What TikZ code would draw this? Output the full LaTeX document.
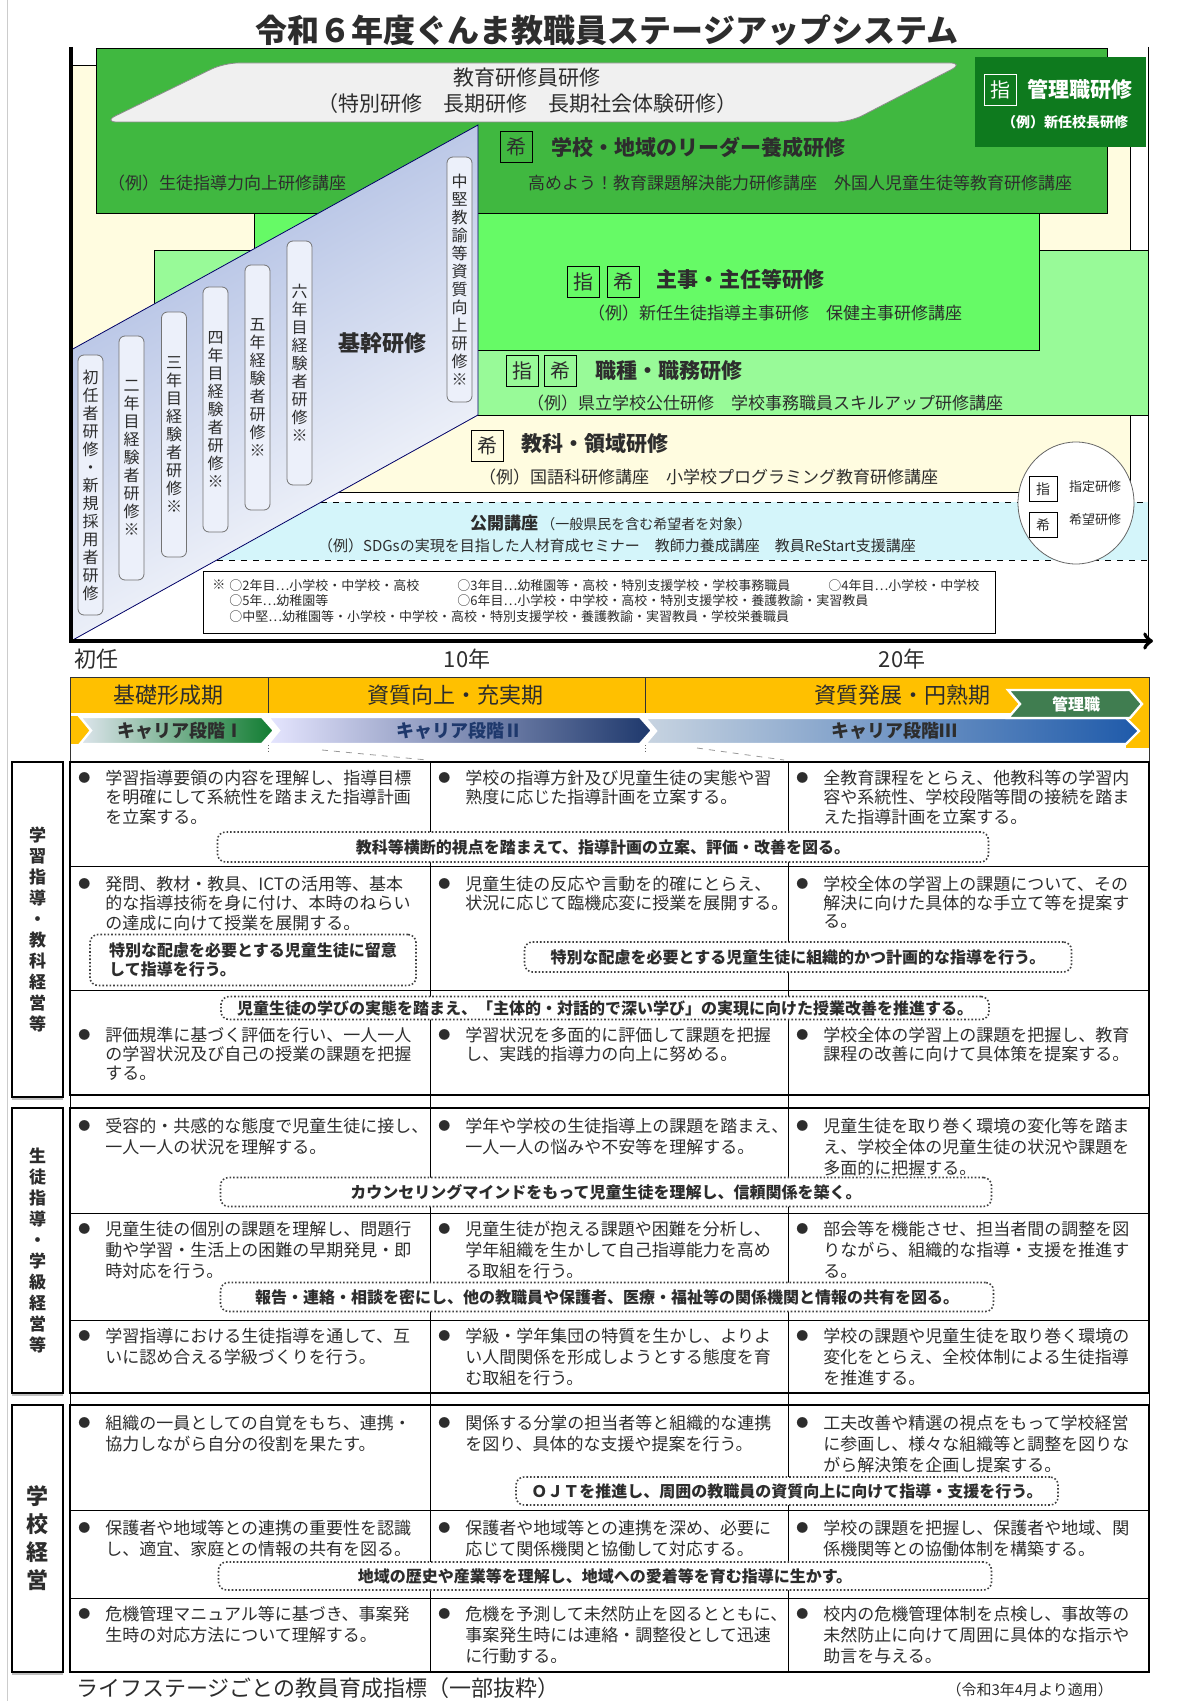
\documentclass[tikz,border=0pt]{standalone}
\usepackage{fontspec}
\setmainfont{Noto Sans CJK JP}
\usetikzlibrary{shadows}

\definecolor{txt}{RGB}{45,45,45}
\definecolor{cream}{RGB}{255,252,224}
\definecolor{dgreen}{RGB}{64,184,64}
\definecolor{kgreen}{RGB}{14,122,30}
\definecolor{bgreen}{RGB}{102,250,102}
\definecolor{lgreen}{RGB}{152,250,152}
\definecolor{cyanband}{RGB}{212,245,250}
\definecolor{pillgray}{RGB}{240,240,240}
\definecolor{kanblue}{RGB}{168,184,224}
\definecolor{tateblue}{RGB}{236,240,250}
\definecolor{orangeband}{RGB}{255,192,0}
\definecolor{navy}{RGB}{30,56,108}
\definecolor{stagegreen}{RGB}{16,124,48}
\definecolor{stageblue}{RGB}{110,150,235}
\definecolor{stagegray}{RGB}{200,212,225}
\definecolor{stageblue3}{RGB}{30,90,170}
\definecolor{kanrigreen}{RGB}{64,125,80}

\newcommand{\tate}[1]{\vbox{\lineskiplimit=-20pt\lineskip=0pt\tateaux#1\relax}}
\def\tateaux#1{\ifx\relax#1\else\hbox to 1em{\hss#1\hss}\expandafter\tateaux\fi}
\newcommand{\bul}[1]{\begin{tabular}[t]{@{}l@{\hspace{7.5pt}}l@{}}\raisebox{0.9pt}{\fontsize{6}{6}\selectfont ●}&\begin{tabular}[t]{@{}l@{}}#1\end{tabular}\end{tabular}}

\tikzstyle{kbox} = [draw, inner sep=0pt, minimum width=16pt, minimum height=15.5pt, font=\fontsize{10}{10}\selectfont, text=txt]
\tikzstyle{heading} = [anchor=west, font=\bfseries\fontsize{10.5}{10.5}\selectfont, text=txt]
\tikzstyle{rei} = [anchor=west, font=\fontsize{8.5}{8.5}\selectfont, text=txt]
\tikzstyle{tatebox} = [draw=black!55, fill=tateblue, rounded corners=3pt, minimum width=12.5pt, inner sep=0pt, font=\fontsize{8}{9}\selectfont, text=txt]
\tikzstyle{note} = [anchor=north west, inner sep=0pt, align=left, font=\fontsize{6.5}{7.75}\selectfont, text=txt]
\tikzstyle{period} = [font=\fontsize{11}{11}\selectfont, text=txt]
\tikzstyle{chevron} = [draw=white, line width=1.2pt]
\tikzstyle{stage} = [font=\bfseries\fontsize{9}{9}\selectfont, text=txt]
\tikzstyle{section} = [draw, line width=0.9pt, fill=white, inner sep=0pt, minimum width=25.5pt, font=\bfseries\fontsize{8.5}{10.5}\selectfont, text=txt, drop shadow={shadow xshift=0pt, shadow yshift=-1.5pt, opacity=0.5}]
\tikzstyle{cell} = [anchor=base west, inner sep=0pt, text=txt, font=\fontsize{8.5}{9}\selectfont]
\tikzstyle{cellw} = [cell, font=\fontsize{8.5}{10.5}\selectfont]
\tikzstyle{dotbox} = [draw=black!75, densely dotted, line width=0.8pt, rounded corners=4pt, fill=white, inner sep=0pt, font=\bfseries\fontsize{8}{9.5}\selectfont, text=txt]

\begin{document}
\begin{tikzpicture}[x=0.5pt, y=-0.5pt]
      \useasboundingbox (0,0) rectangle (1182,1701);
      \draw[black!20] (7,0) -- (7,1701);
      \node[font=\bfseries\fontsize{16}{16}\selectfont, text=txt] (title) at (607,30) {令和６年度ぐんま教職員ステージアップシステム};

      % training map
      \filldraw[fill=cream, draw=black, thin] (71,65) rectangle (1130,641);
      \filldraw[fill=lgreen, thin] (154,250) rectangle (1148,415);
      \filldraw[fill=bgreen, thin] (254,213) rectangle (1039,350);
      \filldraw[fill=dgreen, thin] (96,48) rectangle (1107,213);
      \fill[kgreen] (975,57) rectangle (1146,147);
      \filldraw[fill=pillgray, draw=black!45, rounded corners=7pt] (224,63) -- (964,63) -- (850,122) -- (103,122) -- cycle;
      \fill[white] (339,492) -- (1148,492) -- (1148,641) -- (71,641) -- cycle;
      \fill[cyanband] (321,502) -- (1148,502) -- (1148,560) -- (217,560) -- cycle;
      \draw[dashed] (321,502) -- (1148,502);
      \draw[dashed] (217,560) -- (1148,560);
      \draw (339,492) -- (1130,492);
      \draw[thin] (1148,47) -- (1148,641);
      \draw[draw=black!60!blue, top color=kanblue, bottom color=white, shading angle=29] (71,350) -- (478,125) -- (478,415) -- (71,641) -- cycle;

      \node[align=center, font=\fontsize{10.5}{13}\selectfont, text=txt] (kenshuin) at (527,91) {教育研修員研修\\（特別研修　長期研修　長期社会体験研修）};
      \node[rei] (seito) at (101,183) {（例）生徒指導力向上研修講座};
      \node[kbox] (kibo1) at (516,147) {希};
      \node[heading] (leader) at (544,147) {学校・地域のリーダー養成研修};
      \node[rei] (takameyo) at (521,183) {高めよう！教育課題解決能力研修講座　外国人児童生徒等教育研修講座};

      \node[kbox, draw=white, text=white] (shitei1) at (1000,90) {指};
      \node[heading, text=white] (kanri) at (1020,90) {管理職研修};
      \node[font=\bfseries\fontsize{7}{7}\selectfont, text=white] (kocho) at (1065,122) {（例）新任校長研修};

      \node[kbox] (shitei2) at (583,282) {指};
      \node[kbox] (kibo2) at (623,282) {希};
      \node[heading] (shuji) at (649,280) {主事・主任等研修};
      \node[rei] (shujirei) at (581,313) {（例）新任生徒指導主事研修　保健主事研修講座};

      \node[kbox] (shitei3) at (522,371) {指};
      \node[kbox] (kibo3) at (560,371) {希};
      \node[heading] (shokushu) at (588,371) {職種・職務研修};
      \node[rei] (shokushurei) at (520,403) {（例）県立学校公仕研修　学校事務職員スキルアップ研修講座};

      \node[kbox] (kibo4) at (487,446) {希};
      \node[heading] (kyoka) at (514,444) {教科・領域研修};
      \node[rei] (kyokarei) at (472,477) {（例）国語科研修講座　小学校プログラミング教育研修講座};

      \node[anchor=west, text=txt] (kokai) at (463,523) {{\bfseries\fontsize{8.5}{8.5}\selectfont 公開講座}\,{\fontsize{7}{7}\selectfont （一般県民を含む希望者を対象）}};
      \node[font=\fontsize{7.5}{7.5}\selectfont, text=txt] (kokairei) at (617,546) {（例）SDGsの実現を目指した人材育成セミナー　教師力養成講座　教員ReStart支援講座};

      \node[tatebox, minimum height=130pt] (shonin) at (90.5,485) {\tate{初任者研修・新規採用者研修}};
      \node[tatebox, minimum height=122pt] (nenme2) at (131.5,458) {\tate{二年目経験者研修※}};
      \node[tatebox, minimum height=122.5pt] (nenme3) at (174,434.5) {\tate{三年目経験者研修※}};
      \node[tatebox, minimum height=122.5pt] (nenme4) at (215.5,409.5) {\tate{四年目経験者研修※}};
      \node[tatebox, minimum height=122.5pt] (nenme5) at (257.5,387.5) {\tate{五年経験者研修※}};
      \node[tatebox, minimum height=122pt] (nenme6) at (299.5,363) {\tate{六年目経験者研修※}};
      \node[tatebox, minimum height=122.5pt] (chuken) at (459.5,279.5) {\tate{中堅教諭等資質向上研修※}};
      \node[font=\bfseries\fontsize{11}{11}\selectfont, text=txt] (kikan) at (382,343) {基幹研修};

      \node[draw, thin, fill=white, minimum width=396pt, minimum height=31pt, inner sep=0pt] (notebox) at (599,602) {};
      \node[note] (kome) at (212,579) {※};
      \node[note] (noteA) at (229,579) {○2年目…小学校・中学校・高校\\○5年…幼稚園等\\○中堅…幼稚園等・小学校・中学校・高校・特別支援学校・養護教諭・実習教員・学校栄養職員};
      \node[note] (noteB) at (457,579) {○3年目…幼稚園等・高校・特別支援学校・学校事務職員\\○6年目…小学校・中学校・高校・特別支援学校・養護教諭・実習教員};
      \node[note] (noteC) at (828,579) {○4年目…小学校・中学校};

      \filldraw[fill=white, draw=black!60] (1076,503) ellipse [x radius=58, y radius=61];
      \node[kbox, minimum width=14pt, minimum height=12.5pt, font=\fontsize{7}{7}\selectfont] (hanrei1) at (1043,489) {指};
      \node[font=\fontsize{6.5}{6.5}\selectfont, text=txt] (hanrei1txt) at (1095,487) {指定研修};
      \node[kbox, minimum width=14pt, minimum height=12.5pt, font=\fontsize{7}{7}\selectfont] (hanrei2) at (1043,525) {希};
      \node[font=\fontsize{6.5}{6.5}\selectfont, text=txt] (hanrei2txt) at (1095,520) {希望研修};

      \draw[line width=2pt, ->] (71,47) -- (71,641) -- (1153,641);

      % time line
      \node[period, anchor=west] (shonin0) at (67,659) {初任};
      \node[period] (y10) at (467,659) {10年};
      \node[period] (y20) at (902,659) {20年};
      \fill[orangeband] (70,677) rectangle (1149,713);
      \fill[orangeband] (1126,713) rectangle (1149,748);
      \fill[orangeband] (70,716) rectangle (94,744);
      \draw[black!80] (70,677) -- (1149,677);
      \draw[black!80] (70,677) -- (70,762);
      \draw[black!80] (1149,677) -- (1149,762);
      \draw[black!80] (268,677) -- (268,713);
      \draw[black!80] (645,677) -- (645,713);
      \node[period] (kiso) at (168,695) {基礎形成期};
      \node[period] (jujitsu) at (455,695) {資質向上・充実期};
      \node[period] (enjuku) at (902,695) {資質発展・円熟期};

      \draw[chevron, left color=stagegray!60, right color=stagegreen] (80,717) -- (262,717) -- (274,730.5) -- (262,744) -- (80,744) -- (91,730.5) -- cycle;
      \draw[chevron, left color=white!90!blue, middle color=stageblue, right color=navy] (268,717) -- (640,717) -- (652,730.5) -- (640,744) -- (268,744) -- (279,730.5) -- cycle;
      \draw[chevron, left color=stagegray, middle color=stagegray, right color=stageblue3] (645,718) -- (1126,718) -- (1139,731) -- (1126,744) -- (645,744) -- (656,731) -- cycle;
      \draw[chevron, fill=kanrigreen] (1008,690) -- (1130,690) -- (1142,704) -- (1130,718) -- (1008,718) -- (1020,704) -- cycle;
      \node[stage] (dan1) at (180,731) {キャリア段階Ⅰ};
      \node[stage, text=navy] (dan2) at (459,731) {キャリア段階Ⅱ};
      \node[stage] (dan3) at (894,731) {キャリア段階Ⅲ};
      \node[stage, text=white, font=\bfseries\fontsize{8}{8}\selectfont] (kanrishoku) at (1076,704) {管理職};
      \draw[black!60, densely dotted] (268,745) -- (268,752);
      \draw[black!60, densely dotted] (645,745) -- (645,752);
      \draw[black!40, dashed] (322,750) -- (427,760);
      \draw[black!40, dashed] (697,748) -- (784,760);

      % table
      \draw[line width=0.9pt] (70,762) rectangle (1149,1095);
      \draw[line width=0.9pt] (70,1108) rectangle (1149,1393);
      \draw[line width=0.9pt] (70,1405) rectangle (1149,1672);
      \draw (70,1095) -- (70,1108);
      \draw (70,1393) -- (70,1405);
      \draw (1149,1095) -- (1149,1108);
      \draw (1149,1393) -- (1149,1405);
      \draw (70,866) -- (1149,866);
      \draw (70,990) -- (1149,990);
      \draw (70,1213) -- (1149,1213);
      \draw (70,1320) -- (1149,1320);
      \draw (70,1510) -- (1149,1510);
      \draw (70,1598) -- (1149,1598);
      \draw (430,762) -- (430,1672);
      \draw (788,762) -- (788,1672);

      \node[section, minimum height=167.5pt] (gakushu) at (37.5,929.5) {\tate{学習指導・教科経営等}};
      \node[section, minimum height=142.5pt] (seitoshido) at (37.5,1250.5) {\tate{生徒指導・学級経営等}};
      \node[section, minimum height=133.5pt, font=\bfseries\fontsize{11}{14}\selectfont] (gakkokeiei) at (37.5,1538.5) {\tate{学校経営}};

      \node[cell] (c11) at (78,784) {\bul{学習指導要領の内容を理解し、指導目標\\を明確にして系統性を踏まえた指導計画\\を立案する。}};
      \node[cell] (c12) at (438,784) {\bul{学校の指導方針及び児童生徒の実態や習\\熟度に応じた指導計画を立案する。}};
      \node[cell] (c13) at (796,784) {\bul{全教育課程をとらえ、他教科等の学習内\\容や系統性、学校段階等間の接続を踏ま\\えた指導計画を立案する。}};
      \node[dotbox, minimum width=385.5pt, minimum height=15pt] (p11) at (603,847) {教科等横断的視点を踏まえて、指導計画の立案、評価・改善を図る。};

      \node[cell] (c21) at (78,890) {\bul{発問、教材・教具、ICTの活用等、基本\\的な指導技術を身に付け、本時のねらい\\の達成に向けて授業を展開する。}};
      \node[cell] (c22) at (438,890) {\bul{児童生徒の反応や言動を的確にとらえ、\\状況に応じて臨機応変に授業を展開する。}};
      \node[cell] (c23) at (796,890) {\bul{学校全体の学習上の課題について、その\\解決に向けた具体的な手立て等を提案す\\る。}};
      \node[dotbox, minimum width=163pt, minimum height=25.5pt, align=left] (p12a) at (253,960) {特別な配慮を必要とする児童生徒に留意\\して指導を行う。};
      \node[dotbox, minimum width=273.5pt, minimum height=15pt] (p12b) at (798,957) {特別な配慮を必要とする児童生徒に組織的かつ計画的な指導を行う。};

      \node[dotbox, minimum width=384pt, minimum height=11.5pt] (p13) at (605,1008) {児童生徒の学びの実態を踏まえ、「主体的・対話的で深い学び」の実現に向けた授業改善を推進する。};
      \node[cell] (c31) at (78,1041) {\bul{評価規準に基づく評価を行い、一人一人\\の学習状況及び自己の授業の課題を把握\\する。}};
      \node[cell] (c32) at (438,1041) {\bul{学習状況を多面的に評価して課題を把握\\し、実践的指導力の向上に努める。}};
      \node[cell] (c33) at (796,1041) {\bul{学校全体の学習上の課題を把握し、教育\\課程の改善に向けて具体策を提案する。}};

      \node[cellw] (d11) at (78,1132) {\bul{受容的・共感的な態度で児童生徒に接し、\\一人一人の状況を理解する。}};
      \node[cellw] (d12) at (438,1132) {\bul{学年や学校の生徒指導上の課題を踏まえ、\\一人一人の悩みや不安等を理解する。}};
      \node[cellw] (d13) at (796,1132) {\bul{児童生徒を取り巻く環境の変化等を踏ま\\え、学校全体の児童生徒の状況や課題を\\多面的に把握する。}};
      \node[dotbox, minimum width=385.5pt, minimum height=14.5pt] (p21) at (606,1192) {カウンセリングマインドをもって児童生徒を理解し、信頼関係を築く。};

      \node[cellw] (d21) at (78,1235) {\bul{児童生徒の個別の課題を理解し、問題行\\動や学習・生活上の困難の早期発見・即\\時対応を行う。}};
      \node[cellw] (d22) at (438,1235) {\bul{児童生徒が抱える課題や困難を分析し、\\学年組織を生かして自己指導能力を高め\\る取組を行う。}};
      \node[cellw] (d23) at (796,1235) {\bul{部会等を機能させ、担当者間の調整を図\\りながら、組織的な指導・支援を推進す\\る。}};
      \node[dotbox, minimum width=386.5pt, minimum height=14.5pt] (p22) at (607,1297) {報告・連絡・相談を密にし、他の教職員や保護者、医療・福祉等の関係機関と情報の共有を図る。};

      \node[cellw] (d31) at (78,1342) {\bul{学習指導における生徒指導を通して、互\\いに認め合える学級づくりを行う。}};
      \node[cellw] (d32) at (438,1342) {\bul{学級・学年集団の特質を生かし、よりよ\\い人間関係を形成しようとする態度を育\\む取組を行う。}};
      \node[cellw] (d33) at (796,1342) {\bul{学校の課題や児童生徒を取り巻く環境の\\変化をとらえ、全校体制による生徒指導\\を推進する。}};

      \node[cellw] (e11) at (78,1429) {\bul{組織の一員としての自覚をもち、連携・\\協力しながら自分の役割を果たす。}};
      \node[cellw] (e12) at (438,1429) {\bul{関係する分掌の担当者等と組織的な連携\\を図り、具体的な支援や提案を行う。}};
      \node[cellw] (e13) at (796,1429) {\bul{工夫改善や精選の視点をもって学校経営\\に参画し、様々な組織等と調整を図りな\\がら解決策を企画し提案する。}};
      \node[dotbox, minimum width=271pt, minimum height=14pt] (p31) at (787,1491) {ＯＪＴを推進し、周囲の教職員の資質向上に向けて指導・支援を行う。};

      \node[cellw] (e21) at (78,1534) {\bul{保護者や地域等との連携の重要性を認識\\し、適宜、家庭との情報の共有を図る。}};
      \node[cellw] (e22) at (438,1534) {\bul{保護者や地域等との連携を深め、必要に\\応じて関係機関と協働して対応する。}};
      \node[cellw] (e23) at (796,1534) {\bul{学校の課題を把握し、保護者や地域、関\\係機関等との協働体制を構築する。}};
      \node[dotbox, minimum width=386.5pt, minimum height=14pt] (p32) at (605,1576) {地域の歴史や産業等を理解し、地域への愛着等を育む指導に生かす。};

      \node[cellw] (e31) at (78,1620) {\bul{危機管理マニュアル等に基づき、事案発\\生時の対応方法について理解する。}};
      \node[cellw] (e32) at (438,1620) {\bul{危機を予測して未然防止を図るとともに、\\事案発生時には連絡・調整役として迅速\\に行動する。}};
      \node[cellw] (e33) at (796,1620) {\bul{校内の危機管理体制を点検し、事故等の\\未然防止に向けて周囲に具体的な指示や\\助言を与える。}};

      \node[anchor=west, font=\fontsize{11}{11}\selectfont, text=txt] (footer) at (69,1688) {ライフステージごとの教員育成指標（一部抜粋）};
      \node[anchor=east, font=\fontsize{7.5}{7.5}\selectfont, text=txt] (tekiyo) at (1120,1690) {（令和3年4月より適用）};
\end{tikzpicture}
\end{document}
